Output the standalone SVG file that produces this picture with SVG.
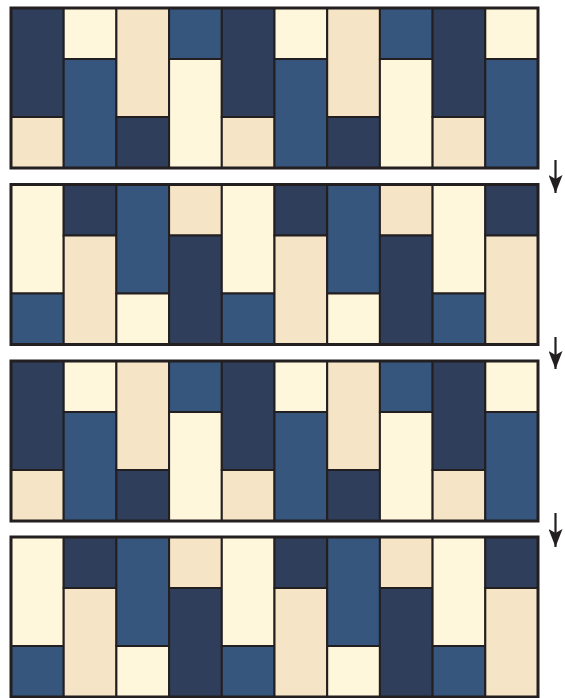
<svg xmlns="http://www.w3.org/2000/svg" width="565" height="698" viewBox="0 0 565 698">
<style>
rect{stroke:#231f20;stroke-width:2}
.N{fill:#2f3e5a}.B{fill:#36567e}.T{fill:#f5e5c6}.C{fill:#fef7db}
.frame{fill:none;stroke:#231f20;stroke-width:3}
.bg{fill:#fff;stroke:none}
.arr{stroke:#231f20;stroke-width:2.2;fill:none}
</style>
<defs>
<marker id="ah" viewBox="0 0 18 14" refX="18" refY="7" markerWidth="18" markerHeight="14" markerUnits="userSpaceOnUse" orient="auto">
<path d="M0,0 L18,7 L0,14 L4,7 z" fill="#231f20"/>
</marker>
</defs>
<rect class="bg" width="565" height="698"/>
<g id="row1" transform="translate(0,8)">
<rect class="N" x="11" y="0" width="52.7" height="109"/><rect class="T" x="11" y="109" width="52.7" height="51"/>
<rect class="C" x="63.7" y="0" width="52.7" height="51"/><rect class="B" x="63.7" y="51" width="52.7" height="109"/>
<rect class="T" x="116.4" y="0" width="52.7" height="109"/><rect class="N" x="116.4" y="109" width="52.7" height="51"/>
<rect class="B" x="169.1" y="0" width="52.7" height="51"/><rect class="C" x="169.1" y="51" width="52.7" height="109"/>
<rect class="N" x="221.8" y="0" width="52.7" height="109"/><rect class="T" x="221.8" y="109" width="52.7" height="51"/>
<rect class="C" x="274.5" y="0" width="52.7" height="51"/><rect class="B" x="274.5" y="51" width="52.7" height="109"/>
<rect class="T" x="327.2" y="0" width="52.7" height="109"/><rect class="N" x="327.2" y="109" width="52.7" height="51"/>
<rect class="B" x="379.9" y="0" width="52.7" height="51"/><rect class="C" x="379.9" y="51" width="52.7" height="109"/>
<rect class="N" x="432.6" y="0" width="52.7" height="109"/><rect class="T" x="432.6" y="109" width="52.7" height="51"/>
<rect class="C" x="485.3" y="0" width="52.7" height="51"/><rect class="B" x="485.3" y="51" width="52.7" height="109"/>
<rect class="frame" x="11" y="0" width="527" height="160"/>
</g>
<g id="row2" transform="translate(0,184.5)">
<rect class="C" x="11" y="0" width="52.7" height="109"/><rect class="B" x="11" y="109" width="52.7" height="51"/>
<rect class="N" x="63.7" y="0" width="52.7" height="51"/><rect class="T" x="63.7" y="51" width="52.7" height="109"/>
<rect class="B" x="116.4" y="0" width="52.7" height="109"/><rect class="C" x="116.4" y="109" width="52.7" height="51"/>
<rect class="T" x="169.1" y="0" width="52.7" height="51"/><rect class="N" x="169.1" y="51" width="52.7" height="109"/>
<rect class="C" x="221.8" y="0" width="52.7" height="109"/><rect class="B" x="221.8" y="109" width="52.7" height="51"/>
<rect class="N" x="274.5" y="0" width="52.7" height="51"/><rect class="T" x="274.5" y="51" width="52.7" height="109"/>
<rect class="B" x="327.2" y="0" width="52.7" height="109"/><rect class="C" x="327.2" y="109" width="52.7" height="51"/>
<rect class="T" x="379.9" y="0" width="52.7" height="51"/><rect class="N" x="379.9" y="51" width="52.7" height="109"/>
<rect class="C" x="432.6" y="0" width="52.7" height="109"/><rect class="B" x="432.6" y="109" width="52.7" height="51"/>
<rect class="N" x="485.3" y="0" width="52.7" height="51"/><rect class="T" x="485.3" y="51" width="52.7" height="109"/>
<rect class="frame" x="11" y="0" width="527" height="160"/>
</g>
<g id="row3" transform="translate(0,361)">
<rect class="N" x="11" y="0" width="52.7" height="109"/><rect class="T" x="11" y="109" width="52.7" height="51"/>
<rect class="C" x="63.7" y="0" width="52.7" height="51"/><rect class="B" x="63.7" y="51" width="52.7" height="109"/>
<rect class="T" x="116.4" y="0" width="52.7" height="109"/><rect class="N" x="116.4" y="109" width="52.7" height="51"/>
<rect class="B" x="169.1" y="0" width="52.7" height="51"/><rect class="C" x="169.1" y="51" width="52.7" height="109"/>
<rect class="N" x="221.8" y="0" width="52.7" height="109"/><rect class="T" x="221.8" y="109" width="52.7" height="51"/>
<rect class="C" x="274.5" y="0" width="52.7" height="51"/><rect class="B" x="274.5" y="51" width="52.7" height="109"/>
<rect class="T" x="327.2" y="0" width="52.7" height="109"/><rect class="N" x="327.2" y="109" width="52.7" height="51"/>
<rect class="B" x="379.9" y="0" width="52.7" height="51"/><rect class="C" x="379.9" y="51" width="52.7" height="109"/>
<rect class="N" x="432.6" y="0" width="52.7" height="109"/><rect class="T" x="432.6" y="109" width="52.7" height="51"/>
<rect class="C" x="485.3" y="0" width="52.7" height="51"/><rect class="B" x="485.3" y="51" width="52.7" height="109"/>
<rect class="frame" x="11" y="0" width="527" height="160"/>
</g>
<g id="row4" transform="translate(0,537)">
<rect class="C" x="11" y="0" width="52.7" height="109"/><rect class="B" x="11" y="109" width="52.7" height="51"/>
<rect class="N" x="63.7" y="0" width="52.7" height="51"/><rect class="T" x="63.7" y="51" width="52.7" height="109"/>
<rect class="B" x="116.4" y="0" width="52.7" height="109"/><rect class="C" x="116.4" y="109" width="52.7" height="51"/>
<rect class="T" x="169.1" y="0" width="52.7" height="51"/><rect class="N" x="169.1" y="51" width="52.7" height="109"/>
<rect class="C" x="221.8" y="0" width="52.7" height="109"/><rect class="B" x="221.8" y="109" width="52.7" height="51"/>
<rect class="N" x="274.5" y="0" width="52.7" height="51"/><rect class="T" x="274.5" y="51" width="52.7" height="109"/>
<rect class="B" x="327.2" y="0" width="52.7" height="109"/><rect class="C" x="327.2" y="109" width="52.7" height="51"/>
<rect class="T" x="379.9" y="0" width="52.7" height="51"/><rect class="N" x="379.9" y="51" width="52.7" height="109"/>
<rect class="C" x="432.6" y="0" width="52.7" height="109"/><rect class="B" x="432.6" y="109" width="52.7" height="51"/>
<rect class="N" x="485.3" y="0" width="52.7" height="51"/><rect class="T" x="485.3" y="51" width="52.7" height="109"/>
<rect class="frame" x="11" y="0" width="527" height="160"/>
</g>
<g id="connectors">
<line class="arr" x1="555.5" y1="160" x2="555.5" y2="193" marker-end="url(#ah)"/>
<line class="arr" x1="555.5" y1="337" x2="555.5" y2="369" marker-end="url(#ah)"/>
<line class="arr" x1="555.5" y1="513" x2="555.5" y2="547" marker-end="url(#ah)"/>
</g>
</svg>
